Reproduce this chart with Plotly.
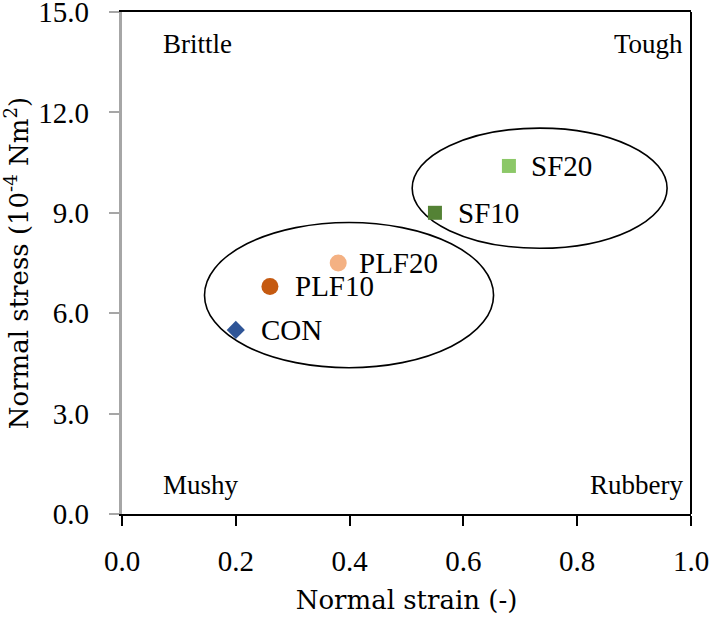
import plotly.graph_objects as go

# ---- data ----
samples = ["CON", "PLF10", "PLF20", "SF10", "SF20"]
strain = [0.20, 0.26, 0.38, 0.55, 0.68]
stress = [5.5, 6.8, 7.5, 9.0, 10.4]

# group ellipses (data units)
groups = ["PLF", "SF"]
ell_x0 = [0.145, 0.510]
ell_x1 = [0.653, 0.958]
ell_y0 = [4.37, 7.94]
ell_y1 = [8.71, 11.53]

quadrants = ["Brittle", "Tough", "Mushy", "Rubbery"]

x_ticks = [0.0, 0.2, 0.4, 0.6, 0.8, 1.0]
y_ticks = [0.0, 3.0, 6.0, 9.0, 12.0, 15.0]

# ---- styles ----
symbols = ["diamond", "circle", "circle", "square", "square"]
colors = ["#2F5597", "#C55A11", "#F4B183", "#548235", "#8CC868"]
sizes = [14, 17, 17, 14, 14]
label_dx = [23, 23, 19, 21, 20]
quad_pos = [(0.069, 0.937, "left"), (0.989, 0.937, "right"),
            (0.069, 0.058, "left"), (0.989, 0.058, "right")]

SERIF = "Liberation Serif"
TITLE_FONT = "DejaVu Serif"
GREY = "#A6A6A6"
NB = "\u00a0"

fig = go.Figure()
for i, s in enumerate(samples):
    fig.add_trace(go.Scatter(
        x=[strain[i]], y=[stress[i]], mode="markers", name=s,
        marker=dict(symbol=symbols[i], color=colors[i], size=sizes[i],
                    line=dict(width=0)),
        showlegend=False, cliponaxis=False, hoverinfo="skip"))
    fig.add_annotation(x=strain[i], y=stress[i], text=s, showarrow=False,
                       xanchor="left", yanchor="middle", xshift=label_dx[i],
                       font=dict(family=SERIF, size=29, color="black"))

for i, g in enumerate(groups):
    fig.add_shape(type="circle", xref="x", yref="y",
                  x0=ell_x0[i], x1=ell_x1[i], y0=ell_y0[i], y1=ell_y1[i],
                  line=dict(color="black", width=1.6), layer="below")

for q, (px, py, anc) in zip(quadrants, quad_pos):
    fig.add_annotation(x=px, y=py, xref="paper", yref="paper", text=q,
                       showarrow=False, xanchor=anc, yanchor="middle",
                       font=dict(family=SERIF, size=27, color="black"))

# right border
fig.add_shape(type="line", xref="paper", yref="paper", x0=1, x1=1, y0=0, y1=1,
              line=dict(color="black", width=2))

fig.update_layout(
    width=709, height=622,
    margin=dict(l=122, r=18, t=12, b=108, autoexpand=False),
    plot_bgcolor="white", paper_bgcolor="white",
    showlegend=False,
    xaxis=dict(range=[0, 1], tickvals=x_ticks,
               ticktext=[f"{v:.1f}" for v in x_ticks],
               showgrid=False, zeroline=False, automargin=False,
               showline=True, linecolor="black", linewidth=2, mirror=True,
               ticks="outside", ticklen=10, tickwidth=1.5, tickcolor="black",
               ticklabeloverflow="allow", ticklabelstandoff=10,
               tickfont=dict(family=SERIF, size=29, color="black"),
               title=dict(text="Normal strain (-)",
                          font=dict(family=TITLE_FONT, size=26, color="black"))),
    yaxis=dict(range=[0, 15], tickvals=y_ticks,
               ticktext=[f"{v:.1f}{NB}{NB}" for v in y_ticks],
               showgrid=False, zeroline=False, automargin=False,
               showline=True, linecolor=GREY, linewidth=2.5,
               ticks="outside", ticklen=10, tickwidth=1.5, tickcolor=GREY,
               ticklabeloverflow="allow",
               tickfont=dict(family=SERIF, size=29, color="black"),
               title=dict(text="Normal stress (10<sup>-4</sup> Nm<sup>2</sup>)",
                          font=dict(family=TITLE_FONT, size=26, color="black"))),
    xaxis2=dict(range=[0, 1], overlaying="x", anchor="y", side="bottom",
                tickvals=x_ticks, showticklabels=False, showgrid=False,
                zeroline=False, showline=False,
                ticks="inside", ticklen=10, tickwidth=1.5, tickcolor="black"),
    yaxis2=dict(range=[0, 15], overlaying="y", anchor="x", side="left",
                tickvals=y_ticks, showticklabels=False, showgrid=False,
                zeroline=False, showline=False,
                ticks="inside", ticklen=10, tickwidth=1.5, tickcolor=GREY),
)

fig.write_html("out.html", config={"displayModeBar": False},
               post_script="document.body.style.margin='0';"
                           "document.body.style.overflow='hidden';")
